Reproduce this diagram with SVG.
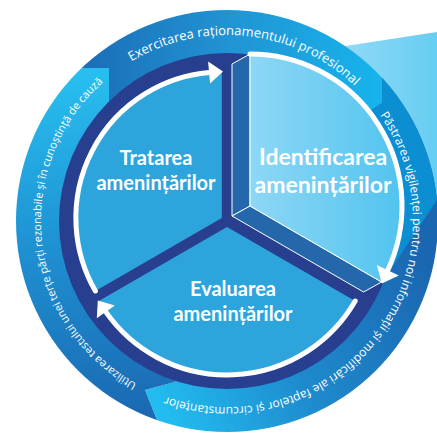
<svg xmlns="http://www.w3.org/2000/svg" width="437" height="434" viewBox="0 0 437 434">
<style>
.bt{font-family:"Open Sans","Noto Sans",sans-serif;fill:#fff;}
.label{font-family:Lato,"Open Sans",sans-serif;font-weight:bold;fill:#fff;text-anchor:middle;}
.arc{fill:none;stroke:#fff;stroke-width:5;stroke-linecap:round;}
.head{fill:#fff;}
.face{fill:#2467ab;stroke:#fff;stroke-width:1;stroke-linejoin:round;}
.seg{fill:#2ea4dc;}
</style>
<defs>
<clipPath id="outer"><circle cx="227" cy="221" r="211"/></clipPath>
<linearGradient id="gTop" gradientUnits="userSpaceOnUse" x1="80" y1="0" x2="382" y2="0">
<stop offset="0" stop-color="#1b6db6"/><stop offset="0.5" stop-color="#2194d4"/><stop offset="1" stop-color="#16b4ec"/>
</linearGradient>
<linearGradient id="gRight" gradientUnits="userSpaceOnUse" x1="430" y1="260" x2="160" y2="410">
<stop offset="0" stop-color="#1a66b0"/><stop offset="0.55" stop-color="#1e8acd"/><stop offset="1" stop-color="#22bdf0"/>
</linearGradient>
<linearGradient id="gLeft" gradientUnits="userSpaceOnUse" x1="130" y1="420" x2="100" y2="70">
<stop offset="0" stop-color="#1a68b2"/><stop offset="0.5" stop-color="#1e90d1"/><stop offset="1" stop-color="#28bff0"/>
</linearGradient>
<linearGradient id="gCallout" gradientUnits="userSpaceOnUse" x1="340" y1="0" x2="437" y2="0">
<stop offset="0" stop-color="#92daf7"/><stop offset="1" stop-color="#66cdf2"/>
</linearGradient>
<linearGradient id="gFront" gradientUnits="userSpaceOnUse" x1="250" y1="0" x2="400" y2="0">
<stop offset="0" stop-color="#8ed7f5"/><stop offset="1" stop-color="#52c4ef"/>
</linearGradient>
<path id="pTop" d="M131.2,61.6 A186,186 0 0,1 388.1,128"/>
<path id="pRight" d="M379.9,115.1 A186,186 0 0,1 120.3,373.4"/>
<path id="pLeft" d="M136.8,383.7 A186,186 0 0,1 148.4,52.4"/>
</defs>

<g id="callout">
<polygon points="300,53 437,32 437,200 381,284 250,206" fill="url(#gCallout)"/>
</g>

<g id="outer-ring" clip-path="url(#outer)">
<polygon points="0,0 382,0 382,103 359,118 227,221 109,101 109,68 0,68" fill="url(#gTop)"/>
<polygon points="382,0 437,0 437,434 165,440 145,390 175,382 227,221 359,118 382,103" fill="url(#gRight)"/>
<polygon points="382,40 437,32 437,200 381,284 300,230 359,118 382,103" fill="#0b8ed2"/>
<polygon points="0,68 109,68 109,101 227,221 175,382 145,390 165,440 0,440" fill="url(#gLeft)"/>
</g>

<g id="band-top">
<text class="bt" font-size="13"><textPath href="#pTop">Exercitarea raționamentului profesional</textPath></text>
</g>
<g id="band-right">
<text class="bt" font-size="12"><textPath href="#pRight">Păstrarea vigilenței pentru noi informații și modificări ale faptelor și circumstanțelor</textPath></text>
</g>
<g id="band-left">
<text class="bt" font-size="11"><textPath href="#pLeft">Utilizarea testului unei terțe părți rezonabile și în cunoștință de cauză</textPath></text>
</g>

<g id="hub">
<circle cx="227" cy="221" r="168" fill="#283f8f"/>
</g>

<g id="tratarea">
<path class="seg" d="M221.8,218 L95.4,291 A146,146 0 0,1 221.8,72 Z"/>
<text class="label" font-size="20" x="156" y="165">Tratarea</text>
<text class="label" font-size="20" x="156" y="190">amenințărilor</text>
</g>

<g id="evaluarea">
<path class="seg" d="M227,227 L355.2,301 A148,148 0 0,1 98.8,301 Z"/>
<text class="label" font-size="20" x="233" y="296">Evaluarea</text>
<text class="label" font-size="20" x="233" y="321">amenințărilor</text>
</g>

<g id="identificarea">
<polygon class="face" points="232,216 232,64 250,54 250,206"/>
<polygon class="face" points="232,216 250,206 381.6,282 363.6,292"/>
<path d="M250,206 L250,54 A152,152 0 0,1 381.6,282 Z" fill="url(#gFront)" stroke="#fff" stroke-width="1"/>
<text class="label" font-size="23" x="323" y="165">Identificarea</text>
<text class="label" font-size="23" x="323" y="193">amenințărilor</text>
</g>

<g id="connectors">
<path class="arc" d="M95.4,291 A146,146 0 0,1 209.1,72.6"/>
<polygon class="head" points="208.1,61.6 223,71.4 210.1,83.6"/>
<path class="arc" d="M250,54 A152,152 0 0,1 387.8,270.2"/>
<polygon class="head" points="398.8,275.4 381.9,283.5 376.8,265"/>
<path class="arc" d="M355.2,301 A148,148 0 0,1 105.8,311.9"/>
<polygon class="head" points="96.8,318.2 97.8,300.4 114.8,305.6"/>
</g>
</svg>
